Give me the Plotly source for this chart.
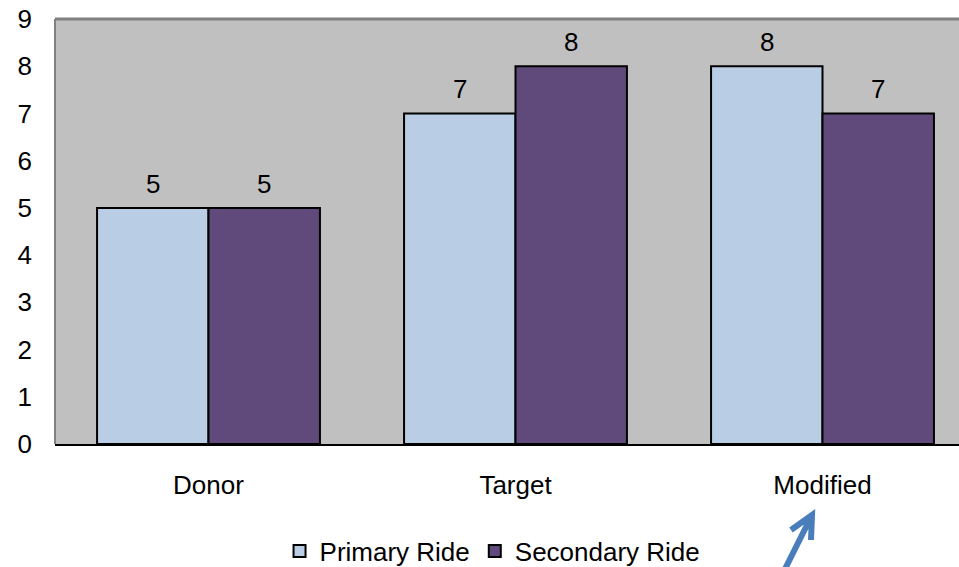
import plotly.graph_objects as go

categories = ["Donor", "Target", "Modified"]
primary = [5, 7, 8]
secondary = [5, 8, 7]
series_names = ["Primary Ride", "Secondary Ride"]
colors = ["#B9CDE5", "#604A7B"]
y_ticks = list(range(0, 10))

FONT = "Liberation Sans, Arial, sans-serif"
W, H = 959, 567
L, T, B = 55, 19, 123
PW, PH = W - L, H - T - B

fig = go.Figure()
for name, vals, col in zip(series_names, [primary, secondary], colors):
    fig.add_trace(go.Bar(
        x=categories, y=vals, name=name,
        marker=dict(color=col, line=dict(color="black", width=2)),
    ))

bargap = 0.274
bw = (1 - bargap) / 2
annotations = []
for k, vals in enumerate([primary, secondary]):
    for i, v in enumerate(vals):
        xpos = i - bw / 2 + k * bw
        annotations.append(dict(x=xpos, y=v, xref="x", yref="y", text=str(v),
                                showarrow=False, yanchor="bottom", yshift=7,
                                font=dict(size=26, color="black", family=FONT)))

fig.update_layout(
    width=W, height=H,
    margin=dict(l=L, r=0, t=T, b=B, autoexpand=False),
    barmode="group", bargap=bargap, bargroupgap=0,
    plot_bgcolor="#C0C0C0", paper_bgcolor="white",
    font=dict(family=FONT, size=26, color="black"),
    showlegend=True,
    legend=dict(orientation="h", x=0.484, xanchor="center", y=-107 / PH, yanchor="middle",
                font=dict(size=26), itemwidth=30, traceorder="normal"),
    annotations=annotations,
    shapes=[
        dict(type="line", xref="paper", yref="paper", x0=0, x1=1, y0=1, y1=1,
             line=dict(color="#808080", width=3)),
        dict(type="line", xref="paper", yref="paper", x0=0, x1=0, y0=0, y1=1,
             line=dict(color="#808080", width=2)),
        # hand-drawn pointer arrow below "Modified"
        dict(type="path", xref="paper", yref="paper",
             xsizemode="pixel", ysizemode="pixel",
             xanchor=(812 - L) / PW, yanchor=(444 - 515) / PH,
             path="M-27,-54 L0,0 M-21,-15 L0,0 L-1,-25",
             line=dict(color="#4A7EBB", width=6)),
    ],
)
fig.update_xaxes(range=[-0.5, -0.5 + PW / 307], showgrid=False, showline=True,
                 linecolor="black", linewidth=2, ticks="", ticklabelstandoff=17,
                 tickfont=dict(size=26))
fig.update_yaxes(range=[0, 9], tickvals=y_ticks, showgrid=False, zeroline=False,
                 showline=False, ticks="", ticklabelstandoff=22, ticklabeloverflow="allow",
                 tickfont=dict(size=26))

fig.write_html("out.html", config={"displayModeBar": False},
               post_script="document.body.style.margin='0';document.body.style.overflow='hidden';")
